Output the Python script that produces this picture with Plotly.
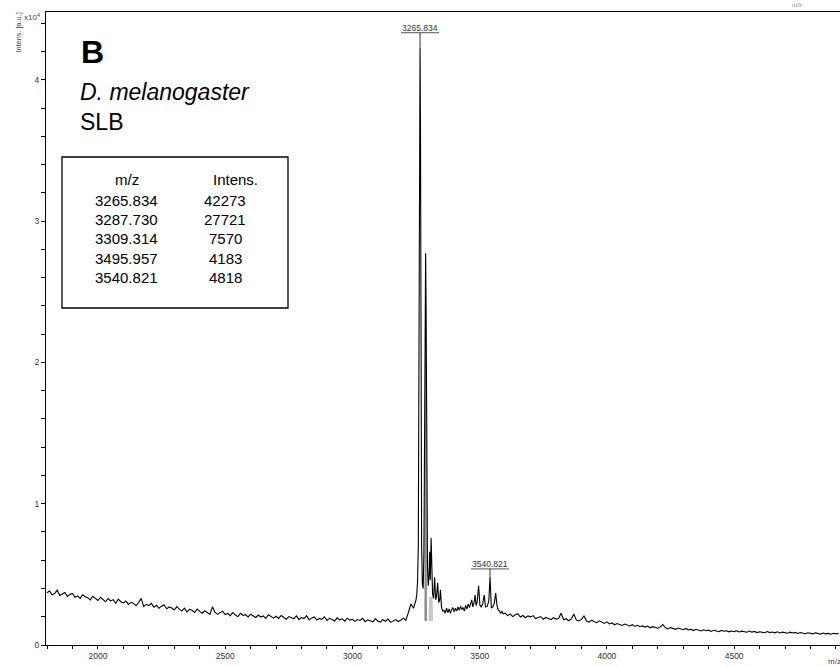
import plotly.graph_objects as go

# ---------------- data ----------------
# baseline noise, m/z 1800 .. 3240 step 10
base_left_start = 1800
base_left = [
    3700, 3820, 3550, 3640, 3880, 3500, 3610, 3720, 3430, 3580,
    3650, 3380, 3470, 3300, 3560, 3420, 3350, 3190, 3450, 3280,
    3150, 3380, 3220, 3060, 3290, 3120, 3200, 2950, 3240, 3060,
    2980, 3110, 2870, 3020, 2940, 2780, 3010, 3300, 2720, 2880,
    2790, 2950, 2680, 2810, 2600, 2750, 2830, 2560, 2690, 2620,
    2480, 2720, 2540, 2400, 2610, 2350, 2520, 2460, 2300, 2540,
    2380, 2250, 2420, 2290, 2160, 2700, 2310, 2180, 2260, 2390,
    2150, 2230, 2080, 2290, 2120, 2010, 2240, 2090, 2150, 1990,
    2180, 2050, 1950, 2120, 1980, 2060, 1890, 2140, 1990, 1900,
    2030, 1880, 2090, 1960, 1820, 2010, 1930, 1850, 2060, 1800,
    1950, 1870, 2080, 1780, 1920, 1990, 1760, 1880, 1820, 2000,
    1740, 1890, 1810, 1700, 1920, 1780, 1850, 1690, 1900, 1760,
    1820, 1670, 1800, 1740, 1890, 1650, 1780, 1720, 1640, 1850,
    1700, 1620, 1790, 1680, 1840, 1600, 1730, 1800, 1660, 1750,
    1900, 1750, 2300, 2900, 2600,
]
# peak cluster and following region, dense points (m/z, intensity)
peak_mz = [3250, 3253, 3256, 3259, 3262, 3264, 3265.834, 3267.5, 3269.5, 3272,
           3275, 3278, 3281, 3284, 3286, 3287.730, 3289.5, 3292, 3295, 3298,
           3301, 3303.5, 3306, 3309.314, 3312, 3315, 3319, 3323, 3327, 3331,
           3335, 3339, 3343, 3346, 3350, 3355,
           3360, 3365, 3370, 3375, 3380, 3385, 3390, 3395, 3400, 3405,
           3410, 3415, 3420, 3425, 3430, 3435, 3440, 3445, 3450, 3455,
           3460, 3465, 3469, 3473, 3478, 3482, 3486, 3490, 3495.957, 3501,
           3506, 3512, 3518, 3523, 3530, 3536, 3540.821, 3546, 3552, 3558,
           3563, 3568, 3573, 3578, 3583, 3588, 3593]
peak_int = [3200, 3600, 4500, 7000, 26000, 38000, 42273, 37000, 22000, 7000,
            4300, 4000, 6500, 19000, 26000, 27721, 24000, 12000, 5500, 4200,
            4900, 6600, 4600, 7570, 5200, 3600, 3300, 4800, 3200, 3500,
            4400, 3000, 3200, 3900, 2700, 2400,
            2450, 2250, 2600, 2300, 2550, 2250, 2500, 2650, 2350, 2600,
            2400, 2700, 2450, 2750, 2500, 2650, 2400, 2800, 2550, 2900,
            2650, 2900, 3200, 2700, 3000, 3540, 2800, 3000, 4183, 2830,
            2700, 2900, 3540, 2690, 2750, 3100, 4818, 2620, 2700, 3000,
            3680, 2800, 2480, 2400, 2250, 2380, 2200]
# right part, m/z 3600 .. 4910 step 10
base_right_start = 3600
base_right = [
    2250, 2080, 2190, 2010, 2140, 2220, 1980, 2090, 1930, 2060,
    1990, 2080, 1870, 1960, 2010, 1820, 1950, 1880, 1790, 1930,
    1830, 1880, 2250, 1790, 1860, 1720, 1840, 2200, 1760, 1700,
    1810, 2050, 1690, 1620, 1760, 1650, 1580, 1710, 1610, 1530,
    1640, 1490, 1560, 1430, 1520, 1450, 1380, 1480, 1400, 1350,
    1440, 1310, 1390, 1290, 1350, 1270, 1340, 1220, 1300, 1240,
    1190, 1280, 1450, 1220, 1140, 1230, 1160, 1110, 1200, 1130,
    1080, 1170, 1060, 1120, 1020, 1110, 1040, 990, 1080, 1010,
    1050, 960, 1040, 990, 940, 1030, 970, 1010, 930, 990,
    950, 1010, 920, 980, 940, 900, 990, 910, 960, 880,
    940, 900, 870, 950, 880, 920, 860, 930, 850, 910,
    870, 830, 910, 850, 890, 820, 880, 840, 800, 870,
    830, 790, 860, 810, 770, 850, 790, 820, 760, 830,
    790, 820,
]
# grey shaded regions under the 3287/3309 peaks (m/z, intensity)
shade_dark_mz = [3283, 3286, 3289.5, 3293]
shade_dark_int = [1700, 24000, 24000, 1700]
shade_light_mz = [3299, 3301, 3315, 3317]
shade_light_int = [1700, 3400, 3400, 1700]

# labelled peaks and the table
label_mz = [3265.834, 3540.821]
label_int = [42273, 4818]
table_mz = ["3265.834", "3287.730", "3309.314", "3495.957", "3540.821"]
table_int = ["42273", "27721", "7570", "4183", "4818"]
x_ticks = [2000, 2500, 3000, 3500, 4000, 4500]
y_ticks = [0, 10000, 20000, 30000, 40000]
y_ticktext = ["0", "1", "2", "3", "4"]

# ---------------- build series ----------------
xs, ys = [], []
for i, v in enumerate(base_left):
    xs.append(base_left_start + 10 * i); ys.append(v)
xs += peak_mz; ys += peak_int
for i, v in enumerate(base_right):
    xs.append(base_right_start + 10 * i); ys.append(v)

FONT = "Arial, Liberation Sans, sans-serif"
fig = go.Figure()
fig.add_trace(go.Scatter(x=shade_dark_mz, y=shade_dark_int, mode="lines",
                         fill="toself", fillcolor="#8c8c8c",
                         line=dict(width=0), hoverinfo="skip"))
fig.add_trace(go.Scatter(x=shade_light_mz, y=shade_light_int, mode="lines",
                         fill="toself", fillcolor="#c8c8c8",
                         line=dict(width=0), hoverinfo="skip"))
fig.add_trace(go.Scatter(x=xs, y=ys, mode="lines",
                         line=dict(color="black", width=1.1), hoverinfo="skip"))

W, H = 840, 667
L, R, T, B = 46, 0, 12, 22
def px(x):
    return (x - L) / (W - L - R)
def py(y):
    return (H - B - y) / (H - T - B)

def note(x, y, text, size, color="black", xanchor="center", **kw):
    return dict(x=px(x), y=py(y), xref="paper", yref="paper", text=text,
                showarrow=False, xanchor=xanchor, yanchor="middle",
                font=dict(family=FONT, size=size, color=color), **kw)

shapes = []
annotations = []
for m, v, up in zip(label_mz, label_int, [15, 8]):
    annotations.append(dict(x=m, y=v, xref="x", yref="y", text=f"{m:.3f}",
                            showarrow=False, yshift=up + 5, yanchor="middle",
                            xanchor="center",
                            font=dict(family=FONT, size=8.5, color="#333")))
    shapes.append(dict(type="line", xref="x", yref="y", xsizemode="pixel",
                       ysizemode="pixel", xanchor=m, yanchor=v,
                       x0=-19, x1=19, y0=up, y1=up,
                       line=dict(color="#555", width=1)))
    shapes.append(dict(type="line", xref="x", yref="y", xsizemode="pixel",
                       ysizemode="pixel", xanchor=m, yanchor=v,
                       x0=0, x1=0, y0=0, y1=up,
                       line=dict(color="#333", width=1)))

# legend box
shapes.append(dict(type="rect", xref="paper", yref="paper",
                   x0=px(62), x1=px(288), y0=py(308), y1=py(157),
                   line=dict(color="black", width=1.3), fillcolor="white",
                   layer="above"))
annotations.append(note(127, 180, "m/z", 15))
annotations.append(note(235, 180, "Intens.", 15))
for i, (a, b) in enumerate(zip(table_mz, table_int)):
    yy = 200 + 19.4 * i
    annotations.append(note(93, yy, a, 15, xanchor="left"))
    annotations.append(note(225, yy, b, 15))

annotations += [
    note(79, 52, "<b>B</b>", 32, xanchor="left"),
    note(78, 92, "<i>D. melanogaster</i>", 23, xanchor="left"),
    note(78, 122, "SLB", 23, xanchor="left"),
    note(17.5, 33, "Intens. [a.u.]", 7.3, color="#444", textangle=-90),
    note(32, 17, "x10<sup>4</sup>", 8, color="#444"),
    note(826, 661, "m/z", 8, color="#444", xanchor="left"),
    note(797, 5, "m/z", 6, color="#888"),
]

fig.update_layout(
    width=W, height=H, margin=dict(l=L, r=R, t=T, b=B),
    paper_bgcolor="white", plot_bgcolor="white", showlegend=False,
    shapes=shapes, annotations=annotations,
    xaxis=dict(range=[1796, 4916], showgrid=False, zeroline=False,
               showline=True, linecolor="black", linewidth=1, mirror=True,
               ticks="outside", ticklen=3, tickcolor="black",
               tickvals=x_ticks, ticktext=[str(v) for v in x_ticks],
               tickfont=dict(family=FONT, size=8.5, color="#333"),
               minor=dict(dtick=100, ticks="outside", ticklen=3,
                          tickcolor="black", showgrid=False)),
    yaxis=dict(range=[0, 44800], showgrid=False, zeroline=False,
               showline=True, linecolor="black", linewidth=1,
               ticks="outside", ticklen=4, tickcolor="black",
               tickvals=y_ticks, ticktext=y_ticktext,
               tickfont=dict(family=FONT, size=8.5, color="#333"),
               minor=dict(dtick=2000, ticks="outside", ticklen=4,
                          tickcolor="black", showgrid=False)),
)
fig.write_html("out.html")
